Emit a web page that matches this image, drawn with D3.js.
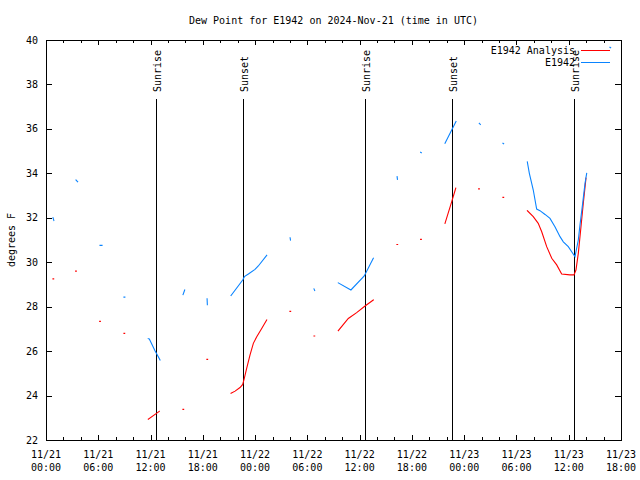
<!DOCTYPE html>
<html><head><meta charset="utf-8">
<script src="https://cdn.jsdelivr.net/npm/d3@7"></script>
<style>body{margin:0;background:#fff}svg{display:block}text{font-family:"DejaVu Sans Mono",monospace;font-size:10px;fill:#000}</style>
</head><body><svg id="c" width="640" height="480"></svg>
<script>
// hours since 2024-11-21 00:00 UTC; null marks a gap
const obsHours = [0.80,0.90,null, 3.44,3.64,null, 6.20,6.43,null, 8.95,9.05,null,
  11.74,11.86,12.51,13.09,null, 15.73,15.92,null, 18.49,18.52,null,
  21.24,22.58,22.77,23.23,23.99,24.37,25.33,null, 28.02,28.06,null, 30.76,30.84,null,
  33.55,35.00,36.53,37.57,null, 40.30,40.34,null, 43.00,43.08,null, 45.80,47.06,null,
  49.73,49.85,null, 52.45,52.53,null,
  55.25,55.48,55.93,56.32,56.70,57.28,57.85,58.42,59.00,59.38,59.95,60.34,60.72,61.10,61.29,61.60,61.87,62.06,null,
  64.73,64.81];
const obsValues = [32.0,31.88,null, 33.70,33.62,null, 30.76,30.76,null, 28.43,28.43,null,
  26.56,26.55,26.02,25.60,null, 28.54,28.75,null, 28.35,28.09,null,
  28.50,29.20,29.35,29.47,29.68,29.83,30.31,null, 31.10,31.00,null, 28.80,28.73,null,
  29.07,28.75,29.38,30.18,null, 33.85,33.73,null, 34.95,34.93,null, 35.35,36.33,null,
  36.25,36.20,null, 35.35,35.33,null,
  34.51,34.00,33.25,32.39,32.32,32.15,31.97,31.60,31.15,30.92,30.70,30.47,30.25,31.00,31.67,32.65,33.55,34.00,null,
  39.67,39.65];
const anaHours = [0.80,0.88,null, 3.40,3.48,null, 6.16,6.24,null, 8.95,9.03,null,
  11.74,13.00,null, 15.72,15.80,null, 18.47,18.55,null,
  21.24,21.70,22.27,22.58,22.76,23.04,23.42,23.80,24.19,24.76,25.33,null,
  28.00,28.08,null, 30.76,30.84,null,
  33.55,34.70,35.66,36.62,37.57,null, 40.28,40.36,null, 43.00,43.08,null,
  45.80,46.57,47.03,null, 49.66,49.74,null, 52.45,52.53,null,
  55.25,55.93,56.50,56.90,57.47,58.05,58.62,59.19,60.14,60.60,60.83,61.10,61.37,61.67,61.98];
const anaValues = [29.25,29.25,null, 29.60,29.60,null, 27.34,27.34,null, 26.80,26.80,null,
  22.94,23.29,null, 23.38,23.38,null, 25.63,25.63,null,
  24.10,24.20,24.36,24.50,24.77,25.23,25.83,26.35,26.65,27.02,27.40,null,
  27.79,27.79,null, 26.68,26.68,null,
  26.92,27.47,27.73,28.03,28.30,null, 30.80,30.80,null, 31.03,31.03,null,
  31.75,32.73,33.33,null, 33.30,33.30,null, 32.92,32.92,null,
  32.32,32.05,31.75,31.37,30.70,30.18,29.88,29.47,29.43,29.43,29.65,30.40,31.45,32.65,33.78];
const eventHours = [12.58, 22.64, 36.62, 46.63, 60.63];
const eventLabels = ["Sunrise","Sunset","Sunrise","Sunset","Sunrise"];
const seriesNames = ["E1942 Analysis","E1942"];
const seriesColors = ["#ff0000","#0a84ff"];
const yTicks = [22,24,26,28,30,32,34,36,38,40];
const titleText = "Dew Point for E1942 on 2024-Nov-21 (time in UTC)";
const yLabel = "degrees F";

const base = Date.UTC(2024,10,21);
const toDate = h => new Date(base + h*3600e3);
const L=46,R=621,T=40,B=440;
const svg = d3.select("#c");
const x = d3.scaleUtc().domain([toDate(0), toDate(66)]).range([L,R]);
const y = d3.scaleLinear().domain([22,40]).range([B,T]);
const px = v => Math.round(v)+0.5;

// ticks
const g = svg.append("g").attr("stroke","#000").attr("shape-rendering","crispEdges");
const minor = d3.range(0,67,2).map(toDate), major = d3.range(0,67,6).map(toDate);
minor.forEach(d=>{const xx=px(x(d));const len=(major.some(m=>+m===+d))?5:3;
  g.append("line").attr("x1",xx).attr("x2",xx).attr("y1",B).attr("y2",B-len);
  g.append("line").attr("x1",xx).attr("x2",xx).attr("y1",T).attr("y2",T+len);});
yTicks.forEach(v=>{const yy=px(y(v));
  g.append("line").attr("x1",L).attr("x2",L+6).attr("y1",yy).attr("y2",yy);
  g.append("line").attr("x1",R).attr("x2",R-6).attr("y1",yy).attr("y2",yy);});

// tick labels
yTicks.forEach(v=>svg.append("text").attr("x",38).attr("y",y(v)+3.5).attr("text-anchor","end").text(v));
const fd=d3.utcFormat("%m/%d"), ft=d3.utcFormat("%H:%M");
major.forEach(d=>{const t=svg.append("text").attr("text-anchor","middle");
  t.append("tspan").attr("x",x(d)).attr("y",457.5).text(fd(d));
  t.append("tspan").attr("x",x(d)).attr("y",470.5).text(ft(d));});

// event lines
eventHours.forEach((h,i)=>{const xx=px(x(toDate(h)));
  svg.append("line").attr("x1",xx).attr("x2",xx).attr("y1",99).attr("y2",B).attr("stroke","#000").attr("shape-rendering","crispEdges");
  svg.append("text").attr("transform",`translate(${xx+4.5},92) rotate(-90)`).text(eventLabels[i]);});

// series
function series(hours, values){return hours.map((h,i)=>({h, v:values[i]}));}
const line = d3.line().defined(d=>d.h!=null&&d.v!=null).x(d=>x(toDate(d.h))).y(d=>y(d.v));
svg.append("path").datum(series(anaHours,anaValues)).attr("d",line).attr("fill","none").attr("stroke",seriesColors[0]).attr("stroke-width",1.1).attr("stroke-linecap","square");
svg.append("path").datum(series(obsHours,obsValues)).attr("d",line).attr("fill","none").attr("stroke",seriesColors[1]).attr("stroke-width",1.1).attr("stroke-linecap","square");

// border
svg.append("rect").attr("x",L+0.5).attr("y",T+0.5).attr("width",R-L).attr("height",B-T).attr("fill","none").attr("stroke","#000").attr("shape-rendering","crispEdges");

// legend
seriesNames.forEach((n,i)=>{const yy=50.5+i*12;
  svg.append("text").attr("x",575).attr("y",yy+3.5).attr("text-anchor","end").text(n);
  svg.append("line").attr("x1",581).attr("x2",610).attr("y1",yy).attr("y2",yy).attr("stroke",seriesColors[i]).attr("shape-rendering","crispEdges");});

// titles
svg.append("text").attr("x",(L+R)/2).attr("y",24).attr("text-anchor","middle").text(titleText);
svg.append("text").attr("transform","translate(15,240) rotate(-90)").attr("text-anchor","middle").text(yLabel);
</script></body></html>
